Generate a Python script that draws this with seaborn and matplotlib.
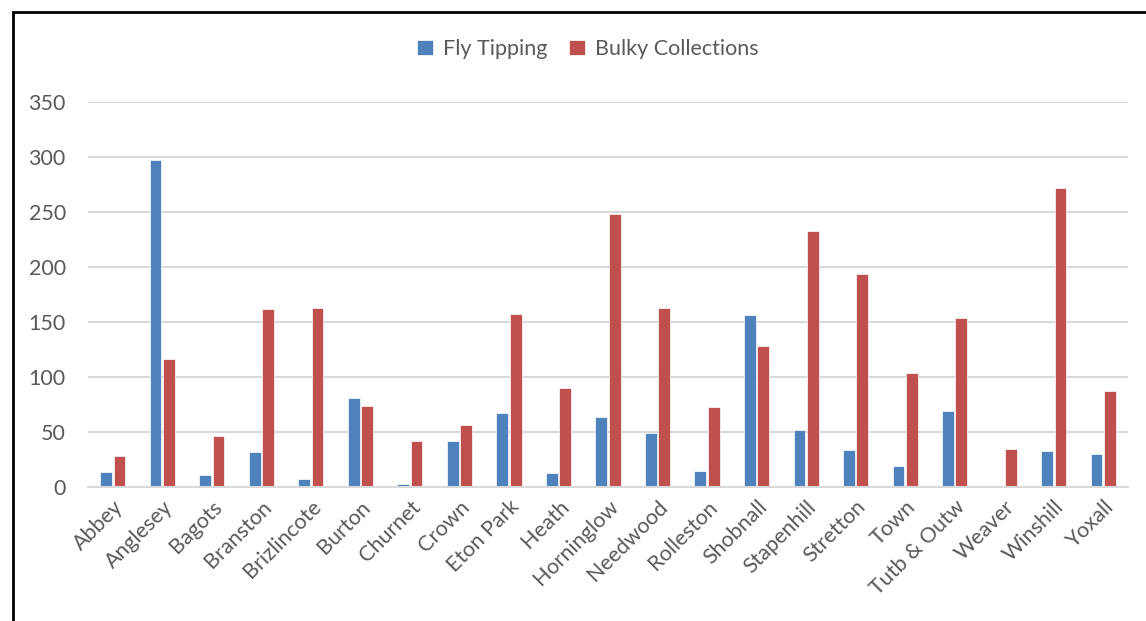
import pandas as pd
import numpy as np
import matplotlib.pyplot as plt
import seaborn as sns
from matplotlib.patches import Rectangle

wards = ["Abbey", "Anglesey", "Bagots", "Branston", "Brizlincote", "Burton",
         "Churnet", "Crown", "Eton Park", "Heath", "Horninglow", "Needwood",
         "Rolleston", "Shobnall", "Stapenhill", "Stretton", "Town",
         "Tutb & Outw", "Weaver", "Winshill", "Yoxall"]
fly_tipping = [14, 297, 11, 32, 7, 81, 3, 42, 67, 13, 64, 49, 15, 156, 52, 34,
               19, 69, 1, 33, 30]
bulky = [28, 116, 46, 162, 163, 74, 42, 56, 157, 90, 248, 163, 73, 128, 233,
         194, 104, 154, 35, 272, 87]
series = ["Fly Tipping", "Bulky Collections"]

df = pd.DataFrame({
    "ward": wards * 2,
    "count": fly_tipping + bulky,
    "series": [series[0]] * len(wards) + [series[1]] * len(wards),
})

sns.set_theme(style="white")
plt.rcParams['font.family'] = ['Lato', 'DejaVu Sans']
txt = "#595959"
fs = 15.5

fig = plt.figure(figsize=(11.46, 6.21), dpi=100)
ax = fig.add_axes([88/1146, 1-487/621, 1040/1146, 385/621])

sns.barplot(data=df, x="ward", y="count", hue="series", ax=ax,
            palette=["#4F81BD", "#C0504D"], saturation=1,
            width=0.54, gap=0.12, edgecolor="white", linewidth=0.5)

ax.set_ylim(0, 350)
ax.set_xlim(-0.5, len(wards) - 0.5)
ax.set_yticks(np.arange(0, 351, 50))
ax.yaxis.grid(True, color="#D9D9D9", linewidth=1.5)
ax.set_axisbelow(True)
ax.set_xlabel("")
ax.set_ylabel("")
sns.despine(ax=ax, left=True, top=True, right=True)
ax.spines["bottom"].set_color("#D9D9D9")
ax.spines["bottom"].set_linewidth(1.5)
ax.tick_params(axis="both", length=0, labelsize=fs, colors=txt)
ax.tick_params(axis="y", pad=16)
plt.setp(ax.get_xticklabels(), rotation=45, ha="right", rotation_mode="anchor")
ax.tick_params(axis="x", pad=7)

h, l = ax.get_legend_handles_labels()
ax.legend_.remove()
fig.legend(h, l, loc="center", bbox_to_anchor=(0.513, 1-49/621), ncol=2,
           frameon=False, fontsize=fs, labelcolor=txt, handlelength=0.75,
           handleheight=0.75, handletextpad=0.45, columnspacing=1.0)

# chart border (clipped by image edge on right and bottom)
fig.patches.append(Rectangle((13/1146, -0.05), 1.2, 1.05 - 12/621,
                             transform=fig.transFigure, fill=False,
                             edgecolor="black", linewidth=2))

fig.savefig("out.png", dpi=100)
